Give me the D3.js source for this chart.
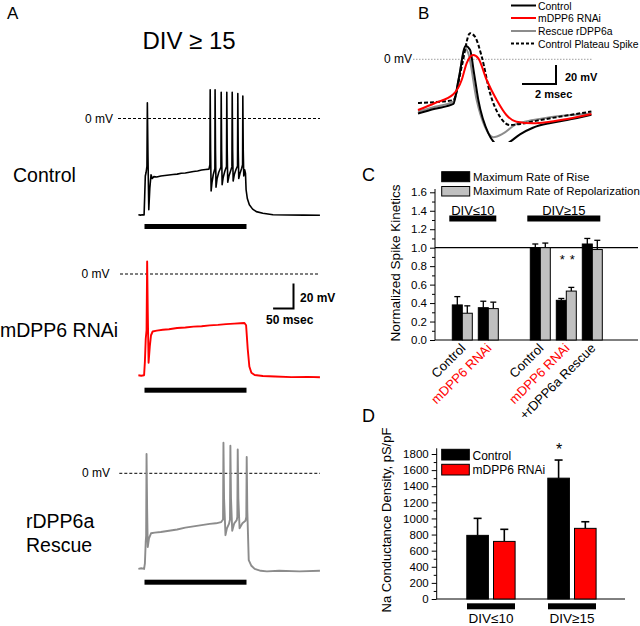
<!DOCTYPE html>
<html><head><meta charset="utf-8">
<script src="https://cdn.jsdelivr.net/npm/d3@7"></script>
<style>body{margin:0;background:#fff}svg{display:block;font-family:"Liberation Sans",Arial,sans-serif}</style>
</head><body>
<svg id="fig" width="640" height="626"></svg>
<script>
// ---------- DATA ----------
// Panel A: voltage traces [time ms, mV]; current step 0-250 ms
const controlTrace = [
 [-15,-77],[-10,-77.3],[-5,-77],[-1,-77.1],[0.5,-62],[2,-46],[4,-43],[6,-38],[7,12.5],[8.5,-30],[10.5,-73],[13,-56],[16,-45],[19,-48],[23,-46.5],[30,-46.8],[40,-46],[50,-45.6],[60,-45.2],[70,-44.8],[80,-44.5],[90,-43.8],[100,-43.6],[110,-43],[120,-42.4],[130,-42],[140,-41.2],[150,-40.8],[158,-40.5],
 [160.3,-37],[161,23],[162,-25],[163.3,-58],[165.5,-51],[168.5,-45],[172.5,-40],
 [173,23],[174,-25],[175.3,-55],[178,-48],[182,-43],[187.3,-39],
 [188,21],[189,-25],[190.3,-53],[193,-47],[197,-42],[201,-38.5],
 [201.7,21],[202.7,-25],[204,-51],[207,-46],[211,-42],[214.3,-38.5],
 [215,21],[216,-25],[217.3,-50],[220,-45],[224,-41],[228,-38],
 [228.7,20],[229.7,-25],[231,-48],[234,-44],[238,-40],[240.4,-37],
 [241,18],[242,-25],[243.3,-46],[245.5,-41],[247.5,-44],[249,-57],[252,-64],[257,-69],[265,-72.5],[274,-74.5],[290,-75.8],[315,-77],[350,-77.2],[390,-77.3],[430,-77.4]
];
const rnaiTrace = [
 [-15,-81],[-8,-81.4],[-1,-81],[1,-70],[3,-52],[5,-45],[6.5,10],[8,-30],[10,-71],[13,-58],[16,-49],[20,-46],[30,-45.3],[45,-44.6],[60,-44.2],[80,-43.2],[100,-42.8],[120,-42.1],[140,-41.8],[160,-41.1],[180,-40.7],[200,-40.1],[220,-39.7],[235,-39.4],[245,-39.2],[249,-41],[253,-60],[257,-74],[262,-79],[270,-80.8],[290,-81.6],[320,-82],[360,-82.5],[400,-82.3],[430,-82.6]
];
const rescueTrace = [
 [-15,-76.5],[-8,-76],[-1,-76.5],[1,-72],[3,-55],[4,-50],[5,15.5],[6.5,-30],[8,-59],[11,-52],[16,-48],[25,-47.5],[40,-47],[60,-46],[80,-45],[100,-43.5],[120,-42.5],[140,-41.5],[160,-40.5],[175,-40],[188,-39],
 [192.5,-37],[193.5,24.5],[195,-20],[198.5,-49.5],[202,-44],[207,-40.5],
 [209.5,-37],[210.5,22],[212,-20],[215,-46],[220,-40],[226,-37.5],
 [227.5,-35],[228.5,19],[230,-20],[233,-44],[240,-40],[247.5,-38],
 [249.5,-35],[250.5,13],[252,-30],[255.5,-69.5],[262,-74],[270,-76.5],[285,-78],[300,-78.5],[330,-78],[380,-78.5],[430,-78]
];
const rowLabels = [["Control"],["mDPP6 RNAi"],["rDPP6a","Rescue"]];

// Panel B: single spikes [time ms, mV]
const spikeControl = [[0,-57],[1,-52],[2.08,-47],[2.4,-20],[2.8,14],[3.06,10],[3.3,-15],[3.55,-43],[4.14,-78],[4.5,-88],[4.9,-92],[5.4,-87],[6.0,-79],[6.76,-72],[7.8,-67],[8.76,-64],[10.2,-58.5]];
const spikeRnai = [[0,-53.4],[1,-46],[2.08,-36.8],[2.57,-21.8],[2.86,-4.2],[3.25,4.5],[3.55,1],[4.04,-21.8],[4.63,-42.8],[5.2,-58.6],[5.8,-65.7],[6.78,-67.4],[7.76,-65.7],[10.2,-57.6]];
const spikeRescue = [[0,-55],[1,-50],[2.08,-44.6],[2.4,-20],[2.76,11.6],[2.96,6.3],[3.45,-42.8],[3.94,-71],[4.43,-82],[5.02,-78],[5.8,-68],[6.78,-64],[7.76,-61],[10.2,-57]];
const spikePlateau = [[0,-46],[2.08,-43],[2.57,-7.8],[3.06,27.4],[3.35,23.8],[3.75,2.7],[4.24,-35.8],[4.82,-60.4],[5.41,-69.2],[6.0,-68],[7.18,-64],[10.2,-55]];
const spikeLegend = ["Control","mDPP6 RNAi","Rescue rDPP6a","Control Plateau Spike"];

// Panel C: normalized spike kinetics
const cCategories = ["Control","mDPP6 RNAi","","Control","mDPP6 RNAi","+rDPP6a Rescue"];
const riseMean = [0.38,0.35,null,1.00,0.43,1.04];
const riseErr  = [0.09,0.07,null,0.04,0.02,0.06];
const repolMean = [0.29,0.34,null,1.00,0.53,0.98];
const repolErr  = [0.08,0.07,null,0.05,0.04,0.10];
const cTicks = [0,0.2,0.4,0.6,0.8,1.0,1.2,1.4,1.6];
const cLegend = ["Maximum Rate of Rise","Maximum Rate of Repolarization"];

// Panel D: Na conductance density
const dGroups = ["DIV≤10","DIV≥15"];
const dControl = [790,1500];
const dControlErr = [211,225];
const dRnai = [715,877];
const dRnaiErr = [150,82];
const dTicks = [0,200,400,600,800,1000,1200,1400,1600,1800];
const dLegend = ["Control","mDPP6 RNAi"];

// ---------- DRAW ----------
const svg = d3.select("#fig");
const txt = (x,y,s,size,opt={}) => {
  const t = svg.append("text").attr("x",x).attr("y",y).text(s).attr("font-size",size)
    .attr("fill",opt.fill||"#000").attr("text-anchor",opt.anchor||"start");
  if(opt.bold) t.attr("font-weight","bold");
  return t;
};

// ===== Panel A =====
txt(7,19,"A",17);
txt(189,49,"DIV ≥ 15",24,{anchor:"middle"});
const xA = d3.scaleLinear().domain([0,250]).range([144.5,246.5]);
const rows = [
  {trace:controlTrace,color:"#000",w:1.6,y0:118.5,bar:224,zl:[118,113,122.5],lab:[[13,181.5]]},
  {trace:rnaiTrace,color:"#f00",w:1.9,y0:274,bar:387.7,zl:[120,109.5,277.5],lab:[[0,336.5]]},
  {trace:rescueTrace,color:"#8c8c8c",w:1.9,y0:473.3,bar:579.7,zl:[119.3,110,476.7],lab:[[26,528.3],[26,551.7]]}
];
rows.forEach((r,i)=>{
  const yA = d3.scaleLinear().domain([0,20]).range([r.y0,r.y0-25]);
  svg.append("line").attr("x1",r.zl[0]).attr("x2",320).attr("y1",yA(0)).attr("y2",yA(0))
    .attr("stroke","#000").attr("stroke-width",1).attr("stroke-dasharray","3,2");
  txt(r.zl[1],r.zl[2],"0 mV",12,{anchor:"end"});
  svg.append("path").datum(r.trace).attr("fill","none").attr("stroke",r.color)
    .attr("stroke-width",r.w).attr("stroke-linejoin","round")
    .attr("d",d3.line().x(d=>xA(d[0])).y(d=>yA(d[1])));
  svg.append("rect").attr("x",xA(0)).attr("y",r.bar).attr("width",xA(250)-xA(0)).attr("height",5).attr("fill","#000");
  rowLabels[i].forEach((s,j)=>txt(r.lab[j][0],r.lab[j][1],s,19.5));
  if(i===1){
    // scale bar 50 ms / 20 mV
    const cx = 293.5, cy = 308.5;
    const dx = xA(50)-xA(0), dy = yA(0)-yA(20);
    svg.append("path").attr("d",`M${cx-dx},${cy}H${cx}V${cy-dy}`).attr("fill","none").attr("stroke","#000").attr("stroke-width",2);
    txt(300,302,"20 mV",12,{bold:true});
    txt(266,323.5,"50 msec",12,{bold:true});
  }
});

// ===== Panel B =====
txt(418,19,"B",17);
const xB = d3.scaleLinear().domain([0,10]).range([418,588]);
const yB = d3.scaleLinear().domain([0,20]).range([59.3,40.3]);
svg.append("defs").append("clipPath").attr("id","clipB").append("rect").attr("x",405).attr("y",0).attr("width",235).attr("height",142);
svg.append("line").attr("x1",413).attr("x2",592).attr("y1",yB(0)).attr("y2",yB(0))
  .attr("stroke","#888").attr("stroke-width",0.8).attr("stroke-dasharray","1.5,1.5");
txt(412,63,"0 mV",12,{anchor:"end"});
const lineB = d3.line().x(d=>xB(d[0])).y(d=>yB(d[1])).curve(d3.curveMonotoneX);
const gB = svg.append("g").attr("clip-path","url(#clipB)");
const bSeries = [
  {d:spikeRescue,c:"#8c8c8c",dash:null},
  {d:spikeControl,c:"#000",dash:null},
  {d:spikePlateau,c:"#000",dash:"4,2"},
  {d:spikeRnai,c:"#f00",dash:null}
];
bSeries.forEach(s=>{
  const p = gB.append("path").datum(s.d).attr("fill","none").attr("stroke",s.c).attr("stroke-width",2).attr("d",lineB);
  if(s.dash) p.attr("stroke-dasharray",s.dash);
});
// legend B
const legB = [{c:"#000",dash:null},{c:"#f00",dash:null},{c:"#8c8c8c",dash:null},{c:"#000",dash:"3,2"}];
const legBy = [9.5,22,35,47.5];
legB.forEach((l,i)=>{
  const ln = svg.append("line").attr("x1",511).attr("x2",536).attr("y1",legBy[i]-4).attr("y2",legBy[i]-4)
    .attr("stroke",l.c).attr("stroke-width",2);
  if(l.dash) ln.attr("stroke-dasharray",l.dash);
  txt(538,legBy[i],spikeLegend[i],10.4);
});
// scale bar B: 2 ms / 20 mV
{
  const cx=556, cy=84, dx=xB(2)-xB(0), dy=yB(0)-yB(20);
  svg.append("path").attr("d",`M${cx-dx},${cy}H${cx}V${cy-dy}`).attr("fill","none").attr("stroke","#000").attr("stroke-width",2);
  txt(565,80.5,"20 mV",11,{bold:true});
  txt(535,97.5,"2 msec",11,{bold:true});
}

// ===== Panel C =====
txt(362,181,"C",18);
const yC = d3.scaleLinear().domain([0,1.6]).range([340,192.3]);
const xC = d3.scaleBand().domain(d3.range(cCategories.length)).range([449.3,605.3]);
const axC = svg.append("g").attr("transform","translate(435,0)")
  .call(d3.axisLeft(yC).tickValues(cTicks).tickFormat(d3.format(".1f")).tickSize(5).tickSizeOuter(0));
axC.selectAll("text").attr("font-size",11.5).attr("font-family","Liberation Sans, Arial, sans-serif");
axC.select(".domain").remove();
svg.append("g").attr("transform","translate(435,0)")
  .call(d3.axisLeft(yC).tickValues(d3.range(0.1,1.6,0.2)).tickFormat("").tickSize(3).tickSizeOuter(0))
  .select(".domain").remove();
svg.append("line").attr("x1",435).attr("x2",435).attr("y1",189).attr("y2",340).attr("stroke","#000");
svg.append("line").attr("x1",435).attr("x2",638).attr("y1",340).attr("y2",340).attr("stroke","#000");
svg.append("line").attr("x1",435).attr("x2",638).attr("y1",yC(1)).attr("y2",yC(1)).attr("stroke","#000").attr("stroke-width",1.2);
svg.append("text").attr("transform","translate(400,263) rotate(-90)").attr("text-anchor","middle")
  .attr("font-size",13.5).text("Normalized Spike Kinetics");
cCategories.forEach((c,i)=>{
  if(riseMean[i]==null) return;
  const cx = xC(i)+xC.bandwidth()/2;
  [[riseMean[i],riseErr[i],"#000",cx-10],[repolMean[i],repolErr[i],"#c0c0c0",cx]].forEach(([m,e,f,x0])=>{
    svg.append("line").attr("x1",x0+5).attr("x2",x0+5).attr("y1",yC(m)).attr("y2",yC(m+e)).attr("stroke","#000").attr("stroke-width",1.3);
    svg.append("line").attr("x1",x0+2).attr("x2",x0+8).attr("y1",yC(m+e)).attr("y2",yC(m+e)).attr("stroke","#000").attr("stroke-width",1.3);
    svg.append("rect").attr("x",x0).attr("y",yC(m)).attr("width",10).attr("height",yC(0)-yC(m))
      .attr("fill",f).attr("stroke","#000").attr("stroke-width",1);
  });
  svg.append("text").attr("transform",`translate(${cx+4},349) rotate(-45)`).attr("text-anchor","end")
    .attr("font-size",13).attr("fill",c.startsWith("mDPP6")?"#f00":"#000").text(c);
});
// significance
txt(xC(4)+xC.bandwidth()/2-4,264,"*",13,{anchor:"middle"});
txt(xC(4)+xC.bandwidth()/2+6,264,"*",13,{anchor:"middle"});
// group bars C
[[0,1,"DIV≤10"],[3,5,"DIV≥15"]].forEach(([a,b,s])=>{
  const x1 = xC(a)+xC.bandwidth()/2-13, x2 = xC(b)+xC.bandwidth()/2+8;
  svg.append("rect").attr("x",x1).attr("y",215.5).attr("width",x2-x1).attr("height",6).attr("fill","#000");
  txt((x1+x2)/2,214.5,s,13,{anchor:"middle"});
});
// legend C
svg.append("rect").attr("x",441.7).attr("y",171.7).attr("width",28).attr("height",10).attr("fill","#000").attr("stroke","#000");
svg.append("rect").attr("x",441.7).attr("y",186.5).attr("width",28).attr("height",9.5).attr("fill","#c0c0c0").attr("stroke","#000");
txt(473,180.5,cLegend[0],11.5);
txt(473,195,cLegend[1],11.5);

// ===== Panel D =====
txt(362,422,"D",18);
const yD = d3.scaleLinear().domain([0,1800]).range([599,454]);
const xD = d3.scaleBand().domain(dGroups).range([450.5,612.5]);
const axD = svg.append("g").attr("transform","translate(436.7,0)")
  .call(d3.axisLeft(yD).tickValues(dTicks).tickFormat(d3.format("d")).tickSize(5).tickSizeOuter(0));
axD.selectAll("text").attr("font-size",11.5).attr("font-family","Liberation Sans, Arial, sans-serif");
axD.select(".domain").remove();
svg.append("g").attr("transform","translate(436.7,0)")
  .call(d3.axisLeft(yD).tickValues(d3.range(100,1800,200)).tickFormat("").tickSize(3).tickSizeOuter(0))
  .select(".domain").remove();
svg.append("line").attr("x1",436.7).attr("x2",436.7).attr("y1",448.3).attr("y2",599).attr("stroke","#000");
svg.append("line").attr("x1",436.7).attr("x2",625).attr("y1",599).attr("y2",599).attr("stroke","#000");
svg.append("text").attr("transform","translate(391,520) rotate(-90)").attr("text-anchor","middle")
  .attr("font-size",13).text("Na Conductance Density, pS/pF");
dGroups.forEach((g,i)=>{
  const cx = xD(g)+xD.bandwidth()/2;
  [[dControl[i],dControlErr[i],"#000",cx-24.2],[dRnai[i],dRnaiErr[i],"#f00",cx+2.5]].forEach(([m,e,f,x0])=>{
    const w=21.6;
    svg.append("line").attr("x1",x0+w/2).attr("x2",x0+w/2).attr("y1",yD(m)).attr("y2",yD(m+e)).attr("stroke","#000").attr("stroke-width",1.6);
    svg.append("line").attr("x1",x0+w/2-4).attr("x2",x0+w/2+4).attr("y1",yD(m+e)).attr("y2",yD(m+e)).attr("stroke","#000").attr("stroke-width",1.6);
    svg.append("rect").attr("x",x0).attr("y",yD(m)).attr("width",w).attr("height",yD(0)-yD(m))
      .attr("fill",f).attr("stroke","#000").attr("stroke-width",1);
  });
  svg.append("rect").attr("x",cx-24).attr("y",603.3).attr("width",48).attr("height",6).attr("fill","#000");
  txt(cx,623,g,13.5,{anchor:"middle"});
});
txt(xD("DIV≥15")+xD.bandwidth()/2-13,455,"*",16,{anchor:"middle"});
svg.append("rect").attr("x",441.7).attr("y",449.3).attr("width",27.6).attr("height",10.7).attr("fill","#000").attr("stroke","#000");
svg.append("rect").attr("x",441.7).attr("y",464.3).attr("width",27.6).attr("height",10.7).attr("fill","#f00").attr("stroke","#000");
txt(472.5,460,dLegend[0],12);
txt(472.5,474,dLegend[1],12);
</script>
</body></html>
